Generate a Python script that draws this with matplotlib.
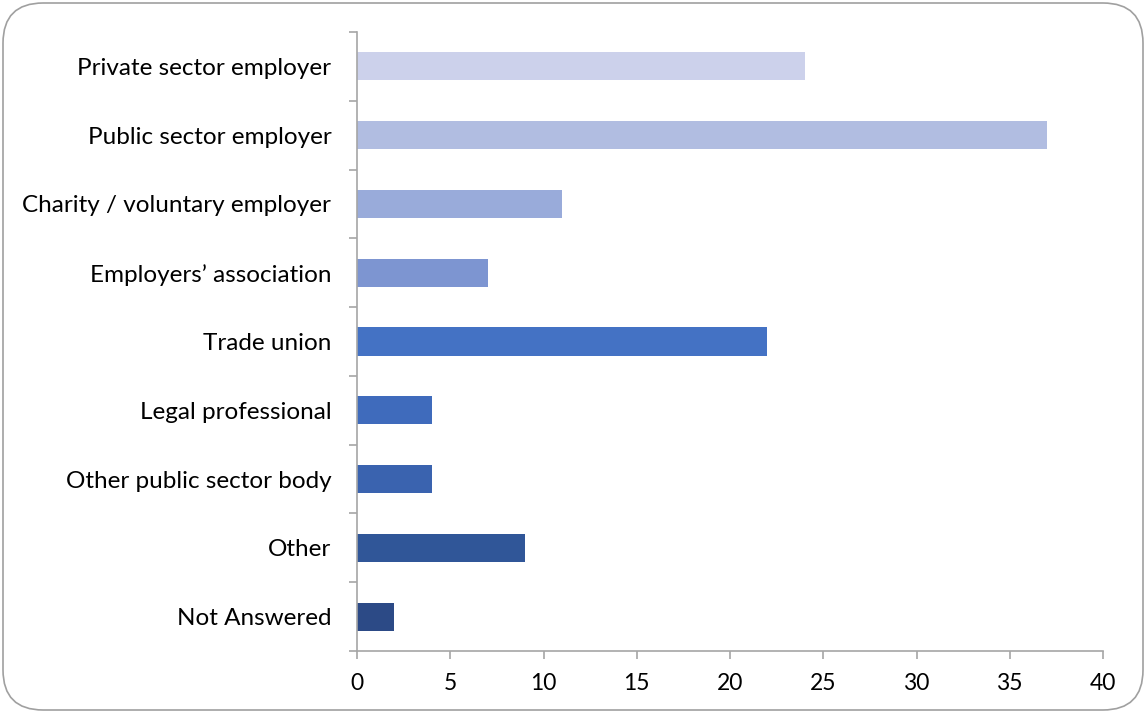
import matplotlib
matplotlib.use("Agg")
import matplotlib.pyplot as plt
from matplotlib.patches import FancyBboxPatch
import numpy as np

categories = [
    "Private sector employer",
    "Public sector employer",
    "Charity / voluntary employer",
    "Employers\u2019 association",
    "Trade union",
    "Legal professional",
    "Other public sector body",
    "Other",
    "Not Answered",
]
counts = [24, 37, 11, 7, 22, 4, 4, 9, 2]
bar_colors = [
    "#CCD1EB", "#B1BDE1", "#99ABDA", "#7D95D1", "#4472C4",
    "#3F6BBC", "#3A63AF", "#305698", "#2C4A86",
]
x_ticks = [0, 5, 10, 15, 20, 25, 30, 35, 40]

plt.rcParams["font.family"] = ["Lato", "DejaVu Sans"]
axis_grey = "#A6A6A6"

fig = plt.figure(figsize=(11.46, 7.13), dpi=100)
ax = fig.add_axes([357 / 1146, 62 / 713, 746 / 1146, 619 / 713])

pos = np.arange(len(categories))
ax.barh(pos, counts, height=0.41, color=bar_colors, zorder=2)

ax.set_xlim(0, 40)
ax.set_ylim(len(categories) - 0.5, -0.5)
ax.set_xticks(x_ticks)
ax.set_xticklabels([str(t) for t in x_ticks], fontsize=16.5)
ax.set_yticks(pos)
ax.set_yticklabels(categories, fontsize=17.5)
ax.set_yticks(np.arange(-0.5, len(categories)), minor=True)

for side in ("top", "right"):
    ax.spines[side].set_visible(False)
for side in ("left", "bottom"):
    ax.spines[side].set_color(axis_grey)
    ax.spines[side].set_linewidth(1.2)

ax.tick_params(axis="y", which="major", length=0, pad=18.5)
ax.tick_params(axis="y", which="minor", length=6, color=axis_grey, width=1.2)
ax.tick_params(axis="x", length=6, color=axis_grey, width=1.2, pad=9.5)

# rounded chart frame
frame = FancyBboxPatch((3 / 1146, 3 / 713), 1140 / 1146, 707 / 713,
                       boxstyle="round,pad=0,rounding_size=0.035",
                       transform=fig.transFigure, fill=False,
                       edgecolor="#A0A0A0", linewidth=1.2,
                       mutation_aspect=1146 / 713)
fig.patches.append(frame)

fig.savefig("out.png", dpi=100)
